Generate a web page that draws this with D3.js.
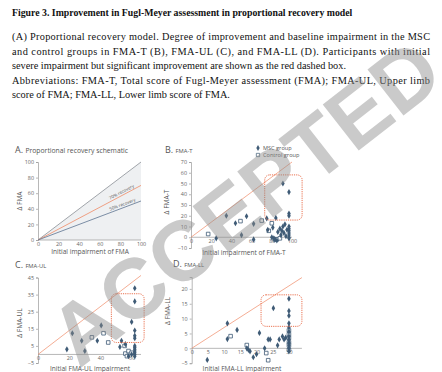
<!DOCTYPE html>
<html>
<head>
<meta charset="utf-8">
<script src="https://d3js.org/d3.v7.min.js"></script>
<style>
  body { margin: 0; background: #fff; }
  svg text { font-family: "Open Sans", sans-serif; fill: #555; }
  svg .axis path, svg .axis line { stroke: #9a9a9a; stroke-width: 0.7; }
  svg .axis text { font-size: 5.4px; fill: #666; }
</style>
</head>
<body>
<script>
// ---- data ----
var captionTitle = "Figure 3. Improvement in Fugl-Meyer assessment in proportional recovery model";
var captionLines = [
  "(A) Proportional recovery model. Degree of improvement and baseline impairment in the MSC",
  "and control groups in FMA-T (B), FMA-UL (C), and FMA-LL (D). Participants with initial",
  "severe impairment but significant improvement are shown as the red dashed box.",
  "Abbreviations: FMA-T, Total score of Fugl-Meyer assessment (FMA); FMA-UL, Upper limb",
  "score of FMA; FMA-LL, Lower limb score of FMA."
];
var justified = [true, true, false, true, false];

var recoveryRates = [1.0, 0.7, 0.5];
var recoveryLabels = ["", "70% recovery", "50% recovery"];

var fmaT_msc = [[25,-1],[35,20],[44,13],[50,2],[55,19.5],[62,12.5],[62,-2],[75,17.5],[76,7],[81,9],
  [84,18],[91,50],[97,42],[97,22],[97,20],[80,0],[82,-1],[83,-2],[85,-3],[86,5],[88,8],[89,2],[90,6],
  [91,10],[92,4],[93,12],[94,1],[95,7],[97,10],[97,8],[97,6],[97,4],[97,2],[97,0],[97,-1]];
var fmaT_ctrl = [[17,3],[49,15],[70,15.5],[80,13],[77,6],[83,-2],[85,-2],[88,-1]];

var fmaUL_msc = [[18.5,3],[22,12.4],[28,8],[30,2],[38,8],[40.5,17],[53.5,8],[52.5,4.4],[56,6],
  [62,38.7],[62,31],[60,19],[62,14],[62,11],[62,9.5],[62,5],[62,4],[62,3],[62,2],[62,1],[62,0],
  [62,-1],[58,-1],[60,0]];
var fmaUL_ctrl = [[34.5,10],[42,12.4],[45,7],[55.5,5],[56,0.5],[58,2],[60,1],[57,-1]];

var fmaLL_msc = [[11,8.4],[11,3.1],[14,6.2],[4.8,-3.9],[17,0],[17.5,-0.5],[18,-1],[19,-3],[20,-2],
  [20.9,5.2],[22.5,0],[23.6,3],[24.2,3],[25.2,13.5],[26.5,1],[27,3],[28,4],[28.5,3],[29,3.6],
  [30,16.7],[30,12.6],[30,11],[30,8.4],[30,7.1],[30,5.6],[30,4],[30,3],[30,2],[30,1],[30,0],[30,-1]];
var fmaLL_ctrl = [[12,4.1],[17,1.1],[23,-1.6],[23.6,-4],[30,6],[30,4.7],[30,3.5],[30,2],[30,1],[30,-0.5]];

var legendLabels = ["MSC group", "Control group"];

var svg = d3.select("body").append("svg")
  .attr("width", 442).attr("height", 372);
svg.append("rect").attr("width", 442).attr("height", 372).attr("fill", "#fff");

var navy = "#3f5b76", orange = "#ef8a66", boxRed = "#e9714f";

//
// caption text
//
var cap = svg.append("g");
cap.append("text").attr("x", 12).attr("y", 16)
  .style("font-family", "'Liberation Serif', serif").style("fill", "#111")
  .style("font-size", "9.8px").style("font-weight", "bold").text(captionTitle);
cap.selectAll("text.line").data(captionLines).enter().append("text")
  .attr("class", "line")
  .attr("x", 12)
  .attr("y", function(d, i) { return 40 + i * 14.5; })
  .style("font-family", "'Liberation Serif', serif").style("fill", "#111")
  .style("font-size", "10.3px")
  .attr("textLength", function(d, i) { return justified[i] ? 418 : null; })
  .attr("lengthAdjust", "spacing")
  .text(function(d) { return d; });

//
// panel helper
//
function panel(opt) {
  var g = svg.append("g");
  var x = d3.scaleLinear().domain(opt.xd).range(opt.xr);
  var y = d3.scaleLinear().domain(opt.yd).range(opt.yr);

  g.append("g").attr("class", "axis")
    .attr("transform", "translate(" + opt.xr[0] + ",0)")
    .call(d3.axisLeft(y).tickValues(opt.yt).tickSize(2).tickPadding(2));
  var xa = g.append("g").attr("class", "axis")
    .attr("transform", "translate(0," + y(0) + ")")
    .call(d3.axisBottom(x).tickValues(opt.xt).tickSize(0).tickPadding(opt.xpad || 2));
  xa.select(".domain").attr("d", "M" + x(opt.xd[0]) + ",0H" + x(opt.xd[1]));

  // title
  var t = g.append("text").attr("x", opt.tx).attr("y", opt.ty);
  t.append("tspan").attr("font-size", 9).text(opt.letter + " ");
  t.append("tspan").attr("font-size", opt.small ? 5.8 : 6.8).text(opt.title);

  g.append("text").attr("text-anchor", "middle").attr("font-size", 6.6)
    .attr("x", opt.xlx).attr("y", opt.xly).text(opt.xlabel);
  g.append("text").attr("text-anchor", "middle").attr("font-size", 6.6)
    .attr("transform", "translate(" + opt.ylx + "," + opt.yly + ")rotate(-90)")
    .text(opt.ylabel);
  return { g: g, x: x, y: y };
}

function scatter(p, msc, ctrl) {
  p.g.append("line")
    .attr("x1", p.x(0)).attr("y1", p.y(0))
    .attr("x2", p.x(p.x.domain()[1])).attr("y2", p.y(0.7 * p.x.domain()[1]))
    .attr("stroke", orange).attr("stroke-width", 0.7);
  p.g.selectAll("path.ctrl").data(ctrl).enter().append("path")
    .attr("class", "ctrl")
    .attr("d", d3.symbol().type(d3.symbolSquare).size(13))
    .attr("transform", function(d) { return "translate(" + p.x(d[0]) + "," + p.y(d[1]) + ")"; })
    .attr("fill", "#fff").attr("stroke", navy).attr("stroke-width", 0.8);
  p.g.selectAll("path.msc").data(msc).enter().append("path")
    .attr("class", "msc")
    .attr("d", d3.symbol().type(d3.symbolDiamond).size(11))
    .attr("transform", function(d) { return "translate(" + p.x(d[0]) + "," + p.y(d[1]) + ")"; })
    .attr("fill", navy);
}

function dashedBox(p, x0, x1, y0, y1) {
  p.g.append("rect")
    .attr("x", p.x(x0)).attr("y", p.y(y1))
    .attr("width", p.x(x1) - p.x(x0)).attr("height", p.y(y0) - p.y(y1))
    .attr("rx", 5).attr("fill", "none")
    .attr("stroke", boxRed).attr("stroke-width", 1).attr("stroke-dasharray", "1.2,1");
}

//
// A. schematic
//
var pA = panel({ xd: [0, 100], xr: [38, 141], yd: [0, 100], yr: [240, 162],
  xt: d3.range(0, 101, 20), yt: d3.range(0, 101, 20),
  letter: "A.", title: "Proportional recovery schematic", tx: 15, ty: 153,
  xlabel: "Initial impairment of FMA", xlx: 90, xly: 254,
  ylabel: "Δ FMA", ylx: 22, yly: 201 });
pA.g.insert("path", ":first-child")
  .attr("d", "M" + pA.x(0) + "," + pA.y(0) + "L" + pA.x(100) + "," + pA.y(100) + "L" + pA.x(100) + "," + pA.y(0) + "Z")
  .attr("fill", "#eef0f2");
pA.g.selectAll("line.rate").data(recoveryRates).enter().append("line")
  .attr("x1", pA.x(0)).attr("y1", pA.y(0))
  .attr("x2", pA.x(100)).attr("y2", function(d) { return pA.y(100 * d); })
  .attr("stroke", function(d, i) { return ["#8a8f96", orange, "#5d7390"][i]; })
  .attr("stroke-width", 0.8);
pA.g.selectAll("text.rate").data(recoveryRates.slice(1)).enter().append("text")
  .attr("font-size", 4.4)
  .attr("fill", function(d, i) { return [orange, "#5d7390"][i]; })
  .attr("transform", function(d) {
    var ang = Math.atan2(pA.y(0) - pA.y(100 * d), pA.x(100) - pA.x(0)) * 180 / Math.PI;
    return "translate(" + pA.x(70) + "," + (pA.y(70 * d) - 2) + ")rotate(" + (-ang) + ")";
  })
  .text(function(d, i) { return recoveryLabels[i + 1]; });

//
// B. FMA-T
//
var pB = panel({ xd: [0, 100], xr: [191, 292], yd: [-10, 70], yr: [248, 162],
  xt: d3.range(0, 101, 20), yt: d3.range(-10, 71, 10),
  letter: "B.", title: "FMA-T", small: true, tx: 165, ty: 153,
  xlabel: "Initial impairment of FMA-T", xlx: 244, xly: 255,
  ylabel: "Δ FMA-T", ylx: 169, yly: 202 });
scatter(pB, fmaT_msc, fmaT_ctrl);
dashedBox(pB, 73, 110, 16, 58);
var leg = pB.g.selectAll("g.leg").data(legendLabels).enter().append("g")
  .attr("transform", function(d, i) { return "translate(258," + (148 + i * 7) + ")"; });
leg.append("path")
  .attr("d", function(d, i) { return d3.symbol().type(i ? d3.symbolSquare : d3.symbolDiamond).size(i ? 11 : 10)(); })
  .attr("fill", function(d, i) { return i ? "#fff" : navy; })
  .attr("stroke", function(d, i) { return i ? navy : "none"; }).attr("stroke-width", 0.7);
leg.append("text").attr("x", 5).attr("y", 2).attr("font-size", 5.6).text(function(d) { return d; });

//
// C. FMA-UL
//
var pC = panel({ xd: [0, 66], xr: [38, 141], yd: [-5, 45], yr: [363, 277.5],
  xt: [0, 20, 40, 60], yt: [-5, 5, 15, 25, 35, 45],
  letter: "C.", title: "FMA-UL", small: true, tx: 15, ty: 268,
  xlabel: "Initial FMA-UL impairment", xlx: 90, xly: 371,
  ylabel: "Δ FMA-UL", ylx: 22, yly: 323 });
scatter(pC, fmaUL_msc, fmaUL_ctrl);
dashedBox(pC, 47, 68, 7, 35.5);

//
// D. FMA-LL
//
var pD = panel({ xd: [0, 34], xr: [191.7, 301.9], yd: [-5, 24], yr: [363.2, 277],
  xt: d3.range(0, 31, 5), yt: d3.range(-5, 21, 5),
  letter: "D.", title: "FMA-LL", small: true, tx: 173, ty: 267,
  xlabel: "Initial FMA-LL impairment", xlx: 242, xly: 371,
  ylabel: "Δ FMA-LL", ylx: 170, yly: 311 });
scatter(pD, fmaLL_msc, fmaLL_ctrl);
dashedBox(pD, 21.4, 34, 7.4, 18);

//
// watermark
//
svg.append("text")
  .attr("transform", "translate(245,202)rotate(-38)")
  .attr("text-anchor", "middle")
  .attr("dominant-baseline", "central")
  .style("font-family", "Liberation Sans, sans-serif")
  .style("font-weight", "bold")
  .style("font-size", "85px")
  .style("fill", "#8c8c8c")
  .style("opacity", 0.45)
  .text("ACCEPTED");
</script>
</body>
</html>
